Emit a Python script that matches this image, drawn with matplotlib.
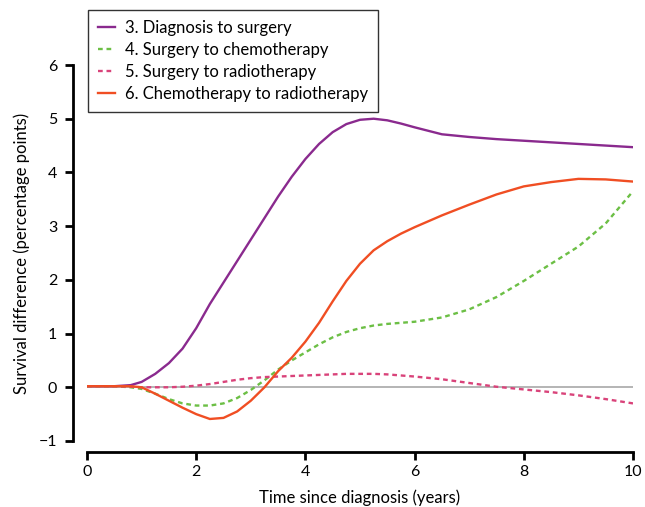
import numpy as np
from matplotlib import pyplot as plt

plt.rcParams['font.family'] = ['Lato', 'DejaVu Sans']

t = [0, 0.5, 0.8, 1.0, 1.25, 1.5, 1.75, 2.0, 2.25, 2.5, 2.75, 3.0, 3.25, 3.5,
     3.75, 4.0, 4.25, 4.5, 4.75, 5.0, 5.25, 5.5, 5.75, 6.0, 6.5, 7.0, 7.5,
     8.0, 8.5, 9.0, 9.5, 10.0]

diag_surg = [0.02, 0.02, 0.04, 0.1, 0.25, 0.45, 0.72, 1.1, 1.55, 1.95, 2.35,
             2.75, 3.15, 3.55, 3.92, 4.25, 4.53, 4.75, 4.9, 4.98, 5.0, 4.97,
             4.91, 4.84, 4.71, 4.66, 4.62, 4.59, 4.56, 4.53, 4.5, 4.47]
surg_chemo = [0.02, 0.02, 0.0, -0.03, -0.12, -0.22, -0.3, -0.34, -0.34, -0.3,
              -0.2, -0.05, 0.13, 0.33, 0.5, 0.65, 0.8, 0.93, 1.03, 1.1, 1.15,
              1.18, 1.2, 1.22, 1.3, 1.45, 1.68, 1.98, 2.3, 2.62, 3.05, 3.65]
surg_radio = [0.02, 0.02, 0.01, 0.0, 0.0, 0.0, 0.01, 0.03, 0.06, 0.1, 0.14,
              0.17, 0.19, 0.2, 0.21, 0.22, 0.23, 0.24, 0.25, 0.25, 0.25, 0.24,
              0.22, 0.2, 0.15, 0.08, 0.01, -0.04, -0.09, -0.15, -0.22, -0.3]
chemo_radio = [0.02, 0.02, 0.02, 0.0, -0.12, -0.25, -0.38, -0.5, -0.59, -0.57,
               -0.45, -0.25, 0.0, 0.3, 0.55, 0.85, 1.2, 1.6, 1.98, 2.3, 2.55,
               2.72, 2.86, 2.98, 3.2, 3.4, 3.59, 3.74, 3.82, 3.88, 3.87, 3.83]

labels = ['3. Diagnosis to surgery', '4. Surgery to chemotherapy',
          '5. Surgery to radiotherapy', '6. Chemotherapy to radiotherapy']

W, H = 645, 507
fig = plt.figure(figsize=(W / 100, H / 100), dpi=100)
ax = fig.add_axes([87 / W, (H - 441) / H, (633 - 87) / W, (441 - 65) / H])

ax.axhline(0, color='#a0a0a0', lw=1.1, zorder=1)
ax.plot(t, diag_surg, color='#8a2a8e', lw=1.7, label=labels[0])
ax.plot(t, surg_chemo, color='#6cbf45', lw=1.7, ls=(0, (2, 1.6)), label=labels[1])
ax.plot(t, surg_radio, color='#d9437a', lw=1.7, ls=(0, (2, 1.6)), label=labels[2])
ax.plot(t, chemo_radio, color='#f04e23', lw=1.7, label=labels[3])

ax.set_xlim(0, 10)
ax.set_ylim(-1, 6)
ax.set_xticks([0, 2, 4, 6, 8, 10])
ax.set_yticks(range(-1, 7))
ax.set_yticklabels(['\u22121', '0', '1', '2', '3', '4', '5', '6'])
for s in ['top', 'right']:
    ax.spines[s].set_visible(False)
ax.spines['left'].set_position(('outward', 10))
ax.spines['bottom'].set_position(('outward', 8))
ax.spines['left'].set_linewidth(2)
ax.spines['bottom'].set_linewidth(2)
ax.tick_params(width=2, length=5.5, labelsize=11.5, colors='black')
ax.tick_params(axis='x', pad=4)
ax.tick_params(axis='y', pad=6)
ax.set_xlabel('Time since diagnosis (years)', fontsize=12, labelpad=7)
ax.set_ylabel('Survival difference (percentage points)', fontsize=12, labelpad=6)

leg = fig.legend(loc='upper left', bbox_to_anchor=(88 / W, 1 - 10 / H),
                 borderaxespad=0, fontsize=12, frameon=True, fancybox=False,
                 edgecolor='#333333', framealpha=1, handlelength=1.0,
                 borderpad=0.6, labelspacing=0.35, handletextpad=0.6)
leg.get_frame().set_linewidth(1.0)

fig.savefig('out.png', dpi=100)
